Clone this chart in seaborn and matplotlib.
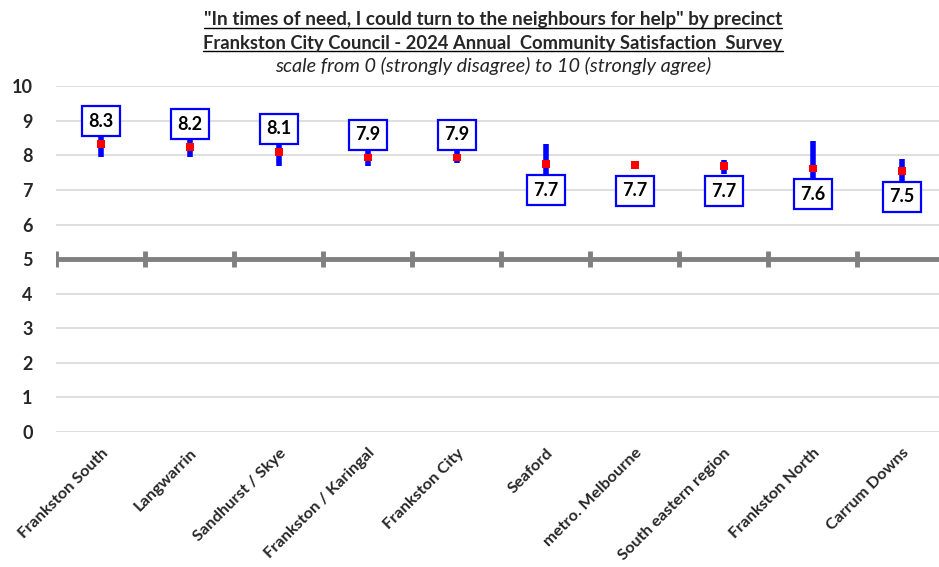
import matplotlib
matplotlib.use("Agg")
import matplotlib.pyplot as plt
from matplotlib.lines import Line2D
import seaborn as sns
import pandas as pd

# data
precincts = ["Frankston South", "Langwarrin", "Sandhurst / Skye", "Frankston / Karingal",
             "Frankston City", "Seaford", "metro. Melbourne", "South eastern region",
             "Frankston North", "Carrum Downs"]
means = [8.32, 8.24, 8.10, 7.94, 7.94, 7.74, 7.72, 7.70, 7.62, 7.54]
ci_low = [7.95, 7.95, 7.69, 7.69, 7.79, 7.14, 7.61, 7.47, 6.85, 7.25]
ci_high = [8.65, 8.58, 8.50, 8.22, 8.12, 8.34, 7.83, 7.86, 8.41, 7.89]
label_pos = ["above"] * 5 + ["below"] * 5
y_ticks = list(range(0, 11))

df = pd.DataFrame({"precinct": precincts, "mean": means, "lo": ci_low, "hi": ci_high,
                   "pos": label_pos})
df["x"] = range(len(df))

sns.set_style("white")
plt.rcParams["font.family"] = ["Lato", "DejaVu Sans"]

fig = plt.figure(figsize=(9.39, 5.67), dpi=100)
ax = fig.add_axes([0.060, 0.238, 0.940, 0.610])

# gridlines
for v in y_ticks:
    if v != 5:
        ax.axhline(v, color="#d9d9d9", lw=1.2, zorder=0)

# the 5 line with category boundary ticks
ax.axhline(5, color="#808080", lw=3.5, zorder=1)
bounds = [i - 0.5 for i in range(len(df))]
ax.plot(bounds, [5] * len(bounds), ls="", marker="|", ms=11, mew=3.5, color="#808080", zorder=1)

# confidence intervals
ax.vlines(df["x"], df["lo"], df["hi"], color="#0000ff", lw=4, zorder=2)

# means
sns.scatterplot(data=df, x="x", y="mean", marker="s", s=32, color="#ff0000",
                edgecolor="none", ax=ax, zorder=3)

# value boxes
for _, r in df.iterrows():
    off = 16.5 if r["pos"] == "above" else -18.5
    ax.annotate(f"{r['mean']:.1f}", xy=(r["x"], r["mean"]), xytext=(0, off),
                textcoords="offset points", ha="center", va="center",
                fontsize=13, fontweight="bold", color="black", zorder=5,
                bbox=dict(boxstyle="square,pad=0.36", fc="white", ec="#0000ff", lw=1.6))

ax.set_xlim(-0.5, 9.42)
ax.set_ylim(0, 10)
ax.set_yticks(y_ticks)
ax.set_yticklabels([str(v) for v in y_ticks], fontsize=13, fontweight="bold")
ax.set_xticks(df["x"])
ax.set_xticklabels(df["precinct"], rotation=45, ha="right", rotation_mode="anchor",
                   fontsize=11.8, fontweight="bold")
ax.tick_params(axis="y", length=0, pad=17)
ax.tick_params(axis="x", length=0, pad=10)
ax.set_xlabel("")
ax.set_ylabel("")
for s in ax.spines.values():
    s.set_visible(False)

# titles
cx = 493 / 939
t1 = fig.text(cx, 1 - 20 / 567, '"In times of need, I could turn to the neighbours for help" by precinct',
              ha="center", va="center", fontsize=13.6, fontweight="bold")
t2 = fig.text(cx, 1 - 43 / 567, "Frankston City Council - 2024 Annual  Community Satisfaction  Survey",
              ha="center", va="center", fontsize=13.2, fontweight="bold")
fig.text(cx, 1 - 66 / 567, "scale from 0 (strongly disagree) to 10 (strongly agree)",
         ha="center", va="center", fontsize=14.3, style="italic")

renderer = fig.canvas.get_renderer()
inv = fig.transFigure.inverted()
for t in (t1, t2):
    bb = t.get_window_extent(renderer).transformed(inv)
    yl = bb.y0 + 0.5 / 567
    fig.add_artist(Line2D([bb.x0, bb.x1], [yl, yl], color="black", lw=1.0,
                          transform=fig.transFigure))

fig.savefig("out.png", dpi=100)
